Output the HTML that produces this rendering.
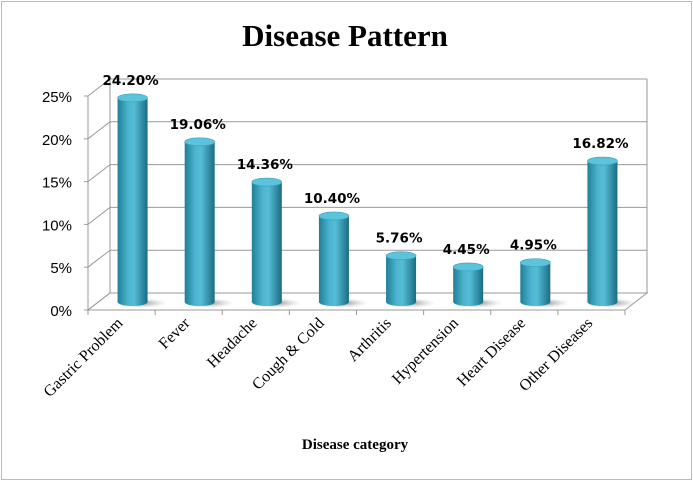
<!DOCTYPE html>
<html><head><meta charset="utf-8"><style>
body{margin:0;background:#fff}
svg{display:block}
</style></head><body>
<svg width="693" height="481" xmlns="http://www.w3.org/2000/svg">
<defs>
<linearGradient id="cyl" x1="0" x2="1" y1="0" y2="0">
<stop offset="0" stop-color="#1f7f97"/><stop offset="0.35" stop-color="#4cb4cf"/><stop offset="0.55" stop-color="#56bdd7"/><stop offset="1" stop-color="#1a6c82"/>
</linearGradient>
<radialGradient id="shad" cx="0.5" cy="0.5" r="0.5"><stop offset="0" stop-color="#777" stop-opacity="0.9"/><stop offset="1" stop-color="#ccc" stop-opacity="0"/></radialGradient>
</defs>
<rect x="1.5" y="1.5" width="690" height="478" fill="#fff" stroke="#bbb"/>
<text x="345" y="46" text-anchor="middle" font-family="Liberation Serif, serif" font-weight="bold" font-size="31">Disease Pattern</text>
<g id="grid"></g>
<g id="bars"></g>
<text x="355" y="449" text-anchor="middle" font-family="Liberation Serif, serif" font-weight="bold" font-size="15">Disease category</text>
</svg>
<script>
const categories=["Gastric Problem","Fever","Headache","Cough & Cold","Arthritis","Hypertension","Heart Disease","Other Diseases"];
const values=[24.20,19.06,14.36,10.40,5.76,4.45,4.95,16.82];
const labels=["24.20%","19.06%","14.36%","10.40%","5.76%","4.45%","4.95%","16.82%"];
const ticks=[0,5,10,15,20,25];
const NS="http://www.w3.org/2000/svg";
const X0=88,X1=625,Y0=310,YT=96,DX=22,DY=-17;
const y=v=>Y0-(v/25)*(Y0-YT);
const bw=(X1-X0)/categories.length;
const g=document.getElementById('grid'),b=document.getElementById('bars');
function mk(p,t,a){const e=document.createElementNS(NS,t);for(const k in a)e.setAttribute(k,a[k]);p.appendChild(e);return e;}
let fl=mk(g,'polygon',{points:`${X0},${Y0} ${X1},${Y0} ${X1+DX},${Y0+DY} ${X0+DX},${Y0+DY}`,fill:'#fff',stroke:'#999'});


mk(g,'line',{x1:X0+DX,y1:y(25)+DY,x2:X0+DX,y2:Y0+DY,stroke:'#999'});
mk(g,'line',{x1:X1+DX,y1:y(25)+DY,x2:X1+DX,y2:Y0+DY,stroke:'#999'});
mk(g,'line',{x1:X0,y1:YT,x2:X0,y2:Y0,stroke:'#999'});
ticks.forEach(t=>{
 const yy=y(t);
 const gl=mk(g,'polyline',{points:`${X0},${yy} ${X0+DX},${yy+DY} ${X1+DX},${yy+DY}`,fill:'none',stroke:'#999'});
 
 
 mk(g,'line',{x1:X0-4,y1:yy,x2:X0,y2:yy,stroke:'#999'});
 const tl=mk(g,'text',{x:X0-16,y:yy+6,'text-anchor':'end','font-family':'Liberation Sans, sans-serif','font-size':'15'});
 tl.textContent=t+'%';
 
 
});
for(let i=0;i<=categories.length;i++){mk(g,'line',{x1:X0+bw*i,y1:Y0,x2:X0+bw*i,y2:Y0+5,stroke:'#999'});}
categories.forEach((c,i)=>{
 const cx=X0+bw*(i+0.5)+11, base=302, top=base-(values[i]/25)*(Y0-YT)+3, r=15, ry=4;
 const grp=mk(b,'g',{});
 
 
 mk(grp,'ellipse',{cx:cx+8,cy:base+1,rx:27,ry:5,fill:'url(#shad)'});
 mk(grp,'path',{d:`M${cx-r},${top} L${cx-r},${base} A${r},${ry} 0 0 0 ${cx+r},${base} L${cx+r},${top} Z`,fill:'url(#cyl)'});
 mk(grp,'ellipse',{cx:cx,cy:top,rx:r,ry:ry,fill:'#5cc3dc',stroke:'#3a9fb8','stroke-width':'0.6'});
 const vl=mk(b,'text',{x:cx-2,y:top-13,'text-anchor':'middle','font-family':'DejaVu Sans, sans-serif','font-weight':'bold','font-size':'13.5'});
 vl.textContent=labels[i];
 
 
 const tx=X0+bw*(i+0.5)+2, ty=324;
 const xl=mk(b,'text',{x:tx,y:ty,'text-anchor':'end','font-family':'Liberation Serif, serif','font-size':'16',transform:`rotate(-45 ${tx} ${ty})`});
 xl.textContent=c;
 
 
});
</script>
</body></html>
